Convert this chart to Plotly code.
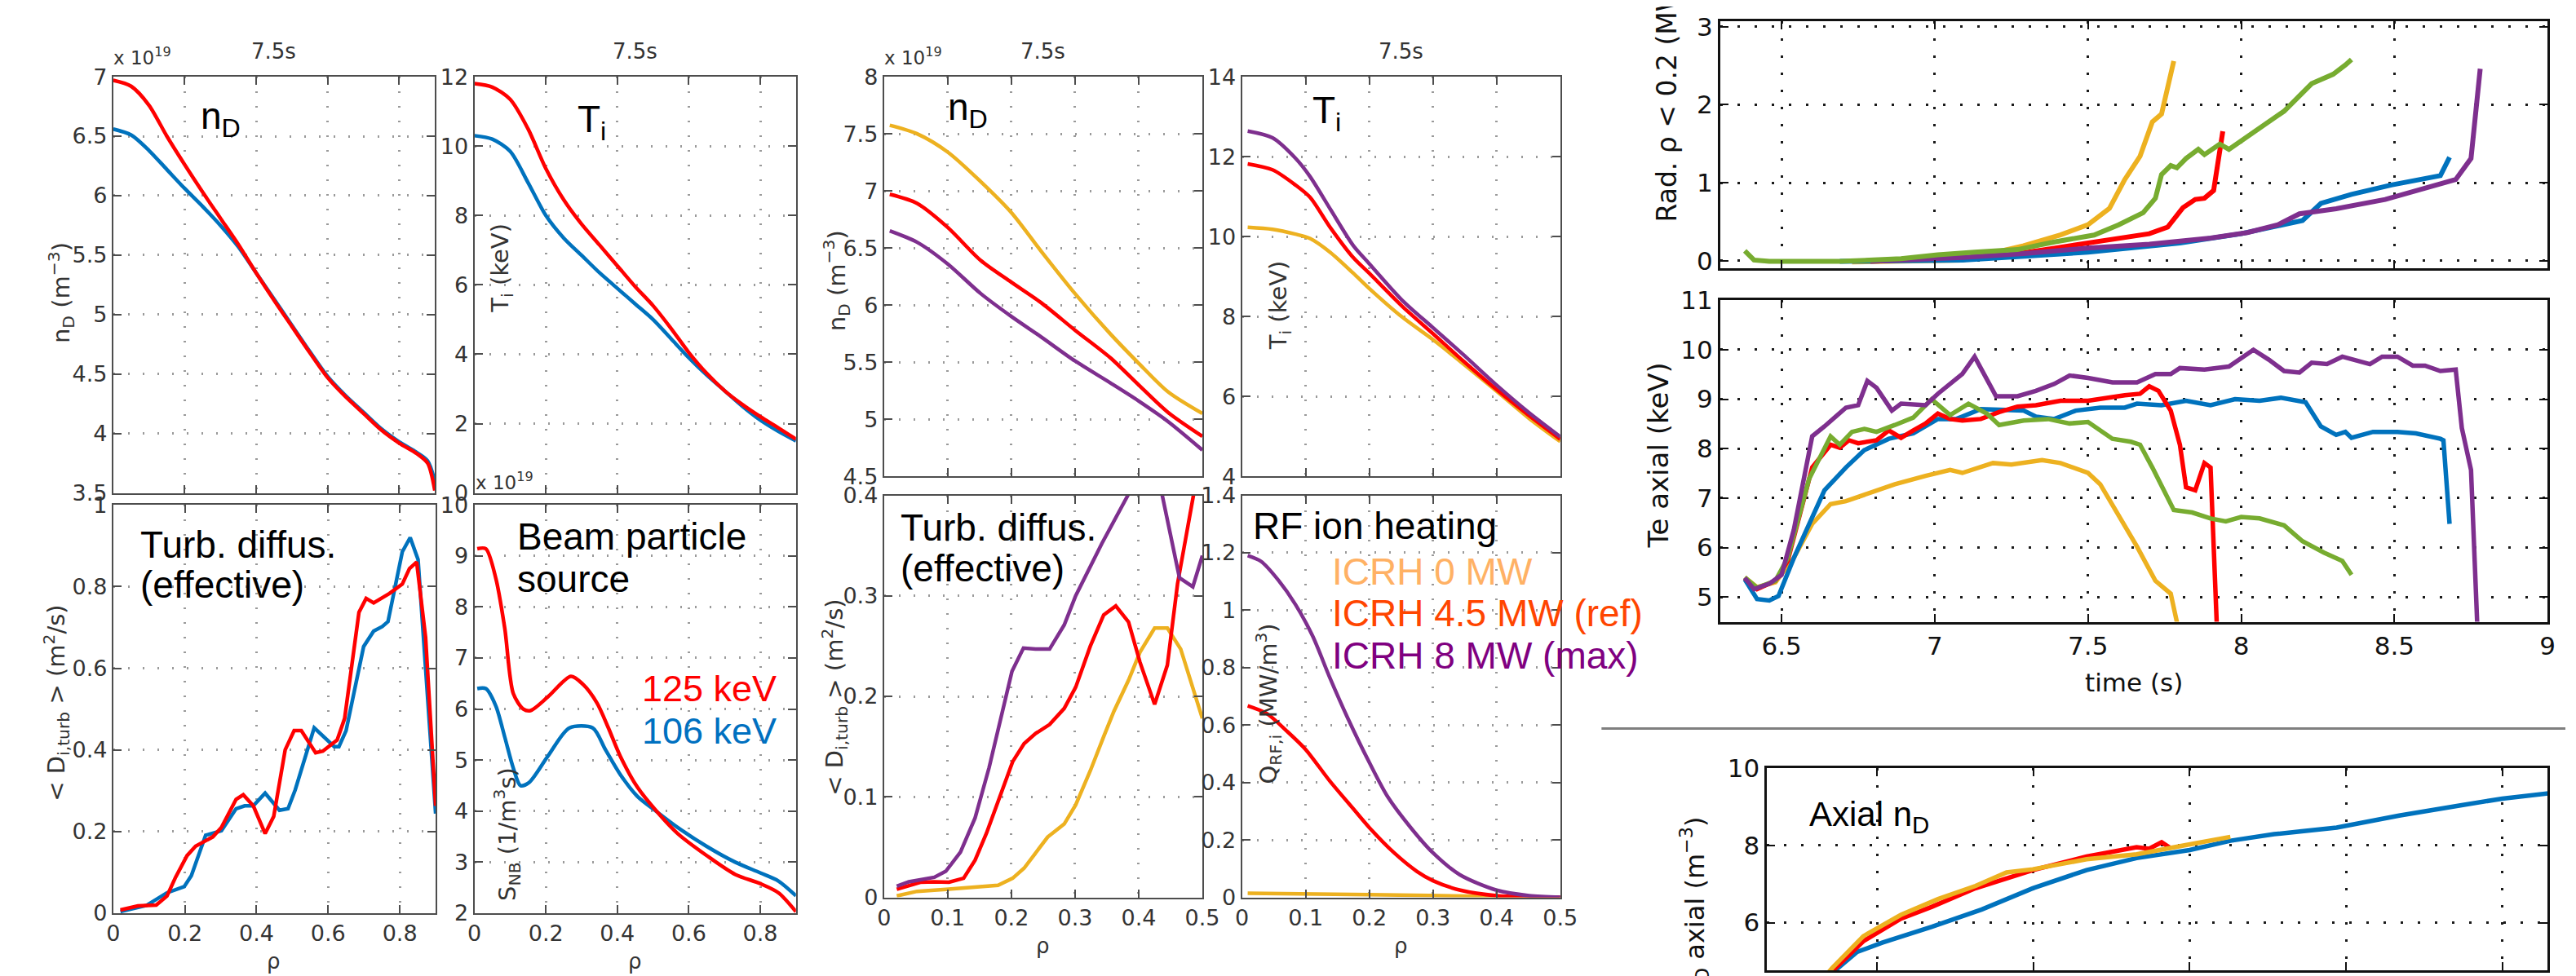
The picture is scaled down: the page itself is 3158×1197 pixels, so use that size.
import plotly.graph_objects as go

W, H = 3158, 1197

RED = "#ff0000"
BLUE = "#0072bd"
YELLOW = "#edb120"
PURPLE = "#7e2f8e"
GREEN = "#77ac30"

# ---------------- beam energy scan (125 keV vs 106 keV), profiles at 7.5 s
rho_nd = [0, 0.05, 0.1, 0.15, 0.2, 0.25, 0.3, 0.35, 0.4, 0.45, 0.5, 0.55, 0.6,
          0.65, 0.7, 0.75, 0.8, 0.85, 0.88, 0.9]
nd_125 = [6.97, 6.92, 6.76, 6.50, 6.26, 6.03, 5.81, 5.59, 5.35, 5.12, 4.90, 4.68,
          4.47, 4.31, 4.17, 4.03, 3.92, 3.83, 3.75, 3.52]
nd_106 = [6.56, 6.51, 6.38, 6.22, 6.06, 5.91, 5.75, 5.57, 5.35, 5.13, 4.91, 4.69,
          4.48, 4.32, 4.18, 4.04, 3.93, 3.84, 3.77, 3.60]

rho_ti = [0, 0.05, 0.1, 0.15, 0.2, 0.25, 0.3, 0.35, 0.4, 0.45, 0.5, 0.55, 0.6,
          0.65, 0.7, 0.75, 0.8, 0.85, 0.9]
ti_125 = [11.8, 11.7, 11.35, 10.5, 9.35, 8.45, 7.75, 7.15, 6.55, 5.95, 5.4, 4.75,
          4.05, 3.45, 2.95, 2.55, 2.2, 1.88, 1.55]
ti_106 = [10.3, 10.2, 9.85, 8.95, 8.0, 7.35, 6.85, 6.35, 5.9, 5.45, 5.0, 4.45,
          3.9, 3.4, 2.95, 2.5, 2.1, 1.78, 1.5]

rho_d125 = [0.02, 0.069, 0.12, 0.15, 0.174, 0.206, 0.23, 0.278, 0.302, 0.343, 0.363,
            0.391, 0.424, 0.448, 0.48, 0.505, 0.525, 0.565, 0.585, 0.625, 0.646,
            0.686, 0.706, 0.727, 0.771, 0.807, 0.827, 0.847, 0.872, 0.9]
d_125 = [0.008, 0.018, 0.02, 0.042, 0.088, 0.141, 0.164, 0.187, 0.21, 0.279, 0.29,
         0.263, 0.195, 0.237, 0.40, 0.447, 0.447, 0.393, 0.397, 0.424, 0.477,
         0.737, 0.771, 0.76, 0.783, 0.806, 0.844, 0.86, 0.676, 0.263]
rho_d106 = [0.02, 0.093, 0.15, 0.198, 0.218, 0.258, 0.302, 0.343, 0.367, 0.391,
            0.424, 0.464, 0.488, 0.508, 0.561, 0.617, 0.63, 0.65, 0.699, 0.727,
            0.751, 0.767, 0.807, 0.829, 0.851, 0.9]
d_106 = [0.004, 0.019, 0.05, 0.065, 0.092, 0.191, 0.202, 0.256, 0.263, 0.263,
         0.294, 0.252, 0.256, 0.302, 0.454, 0.408, 0.408, 0.447, 0.653, 0.691,
         0.702, 0.714, 0.885, 0.92, 0.866, 0.244]

rho_s125 = [0.008, 0.032, 0.06, 0.085, 0.109, 0.137, 0.157, 0.206, 0.27, 0.303,
            0.343, 0.375, 0.408, 0.456, 0.512, 0.569, 0.65, 0.73, 0.8, 0.851, 0.9]
s_125 = [9.14, 9.14, 8.56, 7.58, 6.30, 6.0, 5.97, 6.24, 6.64, 6.49, 6.12, 5.63,
         5.08, 4.47, 3.98, 3.56, 3.13, 2.76, 2.58, 2.40, 2.03]
rho_s106 = [0.008, 0.032, 0.06, 0.085, 0.109, 0.129, 0.153, 0.206, 0.266, 0.331,
            0.367, 0.408, 0.456, 0.512, 0.569, 0.65, 0.73, 0.8, 0.851, 0.9]
s_106 = [6.40, 6.40, 6.06, 5.45, 4.84, 4.50, 4.56, 5.08, 5.63, 5.63, 5.20, 4.72,
         4.29, 3.98, 3.68, 3.31, 3.0, 2.79, 2.63, 2.34]

# ---------------- ICRH power scan, profiles at 7.5 s
rho_nd2 = [0.009, 0.052, 0.1, 0.152, 0.2, 0.247, 0.3, 0.355, 0.4, 0.446, 0.5]
nd_0mw = [7.575, 7.5, 7.34, 7.08, 6.81, 6.47, 6.10, 5.75, 5.49, 5.24, 5.05]
nd_45mw = [6.97, 6.89, 6.68, 6.39, 6.20, 6.02, 5.78, 5.54, 5.30, 5.06, 4.85]
nd_8mw = [6.65, 6.55, 6.36, 6.10, 5.90, 5.72, 5.51, 5.32, 5.16, 4.98, 4.73]

rho_ti2 = [0.009, 0.048, 0.084, 0.107, 0.139, 0.175, 0.2, 0.252, 0.3, 0.348, 0.4,
           0.451, 0.5]
ti_8mw = [12.64, 12.47, 11.96, 11.5, 10.68, 9.77, 9.32, 8.4, 7.72, 7.04, 6.28, 5.59, 4.99]
ti_45mw = [11.82, 11.67, 11.29, 10.98, 10.22, 9.47, 9.08, 8.25, 7.57, 6.88, 6.17, 5.52, 4.93]
ti_0mw = [10.23, 10.18, 10.06, 9.95, 9.6, 9.08, 8.7, 7.98, 7.42, 6.81, 6.13, 5.45, 4.87]

rho_d8 = [0.02, 0.039, 0.079, 0.097, 0.12, 0.143, 0.165, 0.179, 0.201, 0.219, 0.238,
          0.26, 0.283, 0.301, 0.342, 0.383, 0.41, 0.437, 0.464, 0.485, 0.5]
d_8mw = [0.011, 0.0155, 0.02, 0.026, 0.045, 0.079, 0.129, 0.166, 0.225, 0.248, 0.247,
         0.247, 0.271, 0.30, 0.352, 0.40, 0.46, 0.40, 0.318, 0.309, 0.34]
rho_d45 = [0.02, 0.039, 0.057, 0.079, 0.102, 0.125, 0.143, 0.161, 0.184, 0.202, 0.22,
           0.238, 0.26, 0.283, 0.301, 0.324, 0.345, 0.364, 0.384, 0.402, 0.425,
           0.445, 0.461, 0.486, 0.5]
d_45mw = [0.008, 0.012, 0.015, 0.0155, 0.015, 0.019, 0.037, 0.064, 0.104, 0.135,
          0.153, 0.163, 0.172, 0.188, 0.209, 0.25, 0.281, 0.29, 0.274, 0.234, 0.192,
          0.231, 0.312, 0.40, 0.47]
rho_d0 = [0.02, 0.052, 0.097, 0.157, 0.179, 0.202, 0.22, 0.257, 0.283, 0.301, 0.324,
          0.345, 0.361, 0.384, 0.402, 0.425, 0.445, 0.466, 0.5]
d_0mw = [0.0015, 0.006, 0.008, 0.011, 0.012, 0.019, 0.029, 0.06, 0.073, 0.092, 0.126,
         0.16, 0.185, 0.216, 0.244, 0.268, 0.268, 0.247, 0.178]

rho_q8 = [0.009, 0.03, 0.057, 0.084, 0.111, 0.138, 0.166, 0.2, 0.229, 0.265, 0.3,
          0.342, 0.4, 0.451, 0.5]
q_8mw = [1.19, 1.17, 1.105, 1.02, 0.91, 0.765, 0.625, 0.47, 0.35, 0.243, 0.155,
         0.079, 0.025, 0.006, 0.0]
rho_q45 = [0.009, 0.039, 0.07, 0.1, 0.138, 0.175, 0.2, 0.239, 0.275, 0.3, 0.343, 0.4, 0.5]
q_45mw = [0.667, 0.64, 0.58, 0.515, 0.405, 0.308, 0.243, 0.155, 0.09, 0.058, 0.025, 0.006, 0.0]
rho_q0 = [0.009, 0.2, 0.4, 0.5]
q_0mw = [0.014, 0.009, 0.003, 0.0]

# ---------------- time traces
t_rad_g = [6.38, 6.41, 6.46, 6.69, 6.89, 7.01, 7.13, 7.27, 7.39, 7.52, 7.60, 7.68,
           7.72, 7.74, 7.77, 7.79, 7.82, 7.86, 7.88, 7.93, 7.96, 8.04, 8.14, 8.23,
           8.30, 8.34, 8.36]
rad_g = [0.125, 0.007, -0.01, -0.01, 0.024, 0.074, 0.108, 0.142, 0.24, 0.328, 0.46,
         0.615, 0.80, 1.105, 1.22, 1.19, 1.31, 1.427, 1.36, 1.495, 1.427, 1.647,
         1.917, 2.27, 2.39, 2.51, 2.58]
t_rad_y = [6.73, 7.09, 7.29, 7.41, 7.50, 7.57, 7.62, 7.67, 7.71, 7.74, 7.78]
rad_y = [-0.017, 0.007, 0.19, 0.33, 0.46, 0.67, 1.04, 1.34, 1.78, 1.88, 2.56]
t_rad_r = [6.99, 7.19, 7.39, 7.60, 7.70, 7.76, 7.81, 7.85, 7.88, 7.91, 7.92, 7.94]
rad_r = [0.007, 0.04, 0.16, 0.277, 0.345, 0.43, 0.68, 0.785, 0.80, 0.90, 1.17, 1.66]
t_rad_b = [6.69, 7.09, 7.50, 7.80, 8.0, 8.12, 8.20, 8.26, 8.36, 8.49, 8.59, 8.65, 8.68]
rad_b = [-0.01, 0.007, 0.108, 0.227, 0.345, 0.446, 0.514, 0.734, 0.85, 0.97, 1.055,
         1.09, 1.325]
t_rad_p = [6.79, 7.09, 7.29, 7.50, 7.70, 7.90, 8.02, 8.12, 8.19, 8.31, 8.47, 8.57,
           8.70, 8.75, 8.78]
rad_p = [-0.01, 0.04, 0.09, 0.16, 0.21, 0.29, 0.36, 0.46, 0.60, 0.666, 0.785, 0.90,
         1.04, 1.31, 2.46]

t_te_p = [6.38, 6.41, 6.46, 6.50, 6.54, 6.60, 6.64, 6.71, 6.75, 6.78, 6.81, 6.86,
          6.89, 6.97, 7.01, 7.09, 7.13, 7.16, 7.20, 7.27, 7.33, 7.39, 7.44, 7.50,
          7.58, 7.66, 7.72, 7.77, 7.80, 7.88, 7.96, 8.04, 8.09, 8.14, 8.19, 8.23,
          8.28, 8.33, 8.42, 8.46, 8.51, 8.56, 8.60, 8.65, 8.70, 8.72, 8.75, 8.77, 8.78]
te_p = [5.39, 5.16, 5.27, 5.45, 6.36, 8.25, 8.45, 8.83, 8.88, 9.37, 9.23, 8.77,
        8.91, 8.88, 9.11, 9.51, 9.86, 9.51, 9.06, 9.06, 9.17, 9.31, 9.48, 9.43,
        9.34, 9.34, 9.51, 9.51, 9.63, 9.60, 9.66, 10.0, 9.80, 9.57, 9.54, 9.74,
        9.71, 9.86, 9.71, 9.86, 9.86, 9.68, 9.68, 9.57, 9.60, 8.42, 7.57, 4.5, 4.0]
t_te_b = [6.38, 6.42, 6.46, 6.49, 6.54, 6.64, 6.71, 6.77, 6.85, 6.93, 7.01, 7.07,
          7.15, 7.29, 7.33, 7.39, 7.46, 7.54, 7.62, 7.66, 7.74, 7.82, 7.90, 7.98,
          8.06, 8.13, 8.21, 8.26, 8.31, 8.34, 8.36, 8.43, 8.51, 8.57, 8.65, 8.66, 8.68]
te_b = [5.36, 4.96, 4.93, 5.02, 5.79, 7.16, 7.62, 7.97, 8.2, 8.31, 8.60, 8.60,
        8.80, 8.77, 8.65, 8.60, 8.77, 8.83, 8.83, 8.91, 8.88, 8.97, 8.88, 9.0,
        8.97, 9.03, 8.94, 8.45, 8.28, 8.34, 8.22, 8.34, 8.34, 8.31, 8.20, 8.17, 6.48]
t_te_r = [6.38, 6.42, 6.48, 6.52, 6.60, 6.66, 6.69, 6.72, 6.75, 6.81, 6.85, 6.89,
          6.93, 6.97, 7.01, 7.05, 7.09, 7.15, 7.21, 7.27, 7.33, 7.41, 7.50, 7.56,
          7.62, 7.67, 7.70, 7.73, 7.77, 7.80, 7.82, 7.85, 7.88, 7.90, 7.92, 7.93]
te_r = [5.38, 5.16, 5.33, 5.73, 7.62, 8.08, 8.02, 8.17, 8.11, 8.17, 8.37, 8.22,
        8.37, 8.51, 8.71, 8.60, 8.57, 8.60, 8.74, 8.85, 8.88, 8.97, 8.97, 9.03,
        9.08, 9.11, 9.26, 9.17, 8.77, 8.08, 7.22, 7.16, 7.71, 7.62, 4.5, 4.0]
t_te_g = [6.38, 6.42, 6.48, 6.52, 6.59, 6.66, 6.69, 6.73, 6.77, 6.81, 6.87, 6.93,
          6.99, 7.05, 7.11, 7.17, 7.21, 7.29, 7.37, 7.44, 7.50, 7.58, 7.64, 7.67,
          7.71, 7.78, 7.84, 7.90, 7.95, 8.00, 8.06, 8.14, 8.20, 8.27, 8.33, 8.36]
te_g = [5.40, 5.19, 5.33, 5.79, 7.39, 8.25, 8.08, 8.34, 8.40, 8.34, 8.48, 8.63,
        9.0, 8.68, 8.91, 8.71, 8.48, 8.57, 8.60, 8.51, 8.54, 8.20, 8.14, 8.08,
        7.62, 6.76, 6.71, 6.59, 6.53, 6.62, 6.59, 6.45, 6.13, 5.90, 5.73, 5.45]
t_te_y = [6.38, 6.42, 6.48, 6.54, 6.60, 6.66, 6.71, 6.79, 6.87, 6.97, 7.05, 7.09,
          7.19, 7.25, 7.35, 7.41, 7.50, 7.54, 7.60, 7.66, 7.72, 7.77, 7.79, 7.80]
te_y = [5.40, 5.20, 5.30, 5.79, 6.48, 6.88, 6.94, 7.11, 7.28, 7.45, 7.57, 7.51,
        7.71, 7.68, 7.77, 7.71, 7.51, 7.28, 6.65, 6.02, 5.33, 5.07, 4.5, 4.0]

t_nd_b = [6.30, 6.367, 6.436, 6.516, 6.675, 6.835, 6.998, 7.17, 7.33, 7.50, 7.63,
          7.77, 7.97, 8.17, 8.37, 8.50, 8.65]
nd_ax_b = [4.2, 4.77, 5.24, 5.48, 5.89, 6.34, 6.89, 7.36, 7.67, 7.88, 8.12, 8.29,
           8.46, 8.77, 9.04, 9.21, 9.35]
t_nd_r = [6.30, 6.367, 6.456, 6.576, 6.675, 6.815, 6.998, 7.17, 7.33, 7.37, 7.41, 7.44]
nd_ax_r = [4.3, 4.83, 5.52, 6.10, 6.41, 6.89, 7.36, 7.71, 7.95, 7.91, 8.08, 7.92]
t_nd_y = [6.30, 6.357, 6.456, 6.576, 6.695, 6.815, 6.914, 6.998, 7.17, 7.33, 7.49, 7.63]
nd_ax_y = [4.3, 4.83, 5.65, 6.20, 6.61, 6.95, 7.30, 7.38, 7.64, 7.77, 8.01, 8.22]

# ---------------------------------------------------------------------------
fig = go.Figure()

TICKFONT = "DejaVu Sans, Liberation Sans, Arial"
LABELFONT = "Liberation Sans, Arial"

# panel boxes in pixels: left, top, right, bottom
panels = {
    1: dict(box=(123, 70, 521, 595), xr=[0, 0.9], yr=[3.5, 7], xd=0.2, yd=0.5, xl=False, st="L"),
    2: dict(box=(570, 70, 968, 595), xr=[0, 0.9], yr=[0, 12], xd=0.2, yd=2, xl=False, st="L"),
    3: dict(box=(123, 610, 522, 1125), xr=[0, 0.9], yr=[0, 1], xd=0.2, yd=0.2, xl=True, st="L"),
    4: dict(box=(570, 610, 968, 1125), xr=[0, 0.9], yr=[2, 10], xd=0.2, yd=1, xl=True, st="L"),
    5: dict(box=(1077, 70, 1471, 574), xr=[0, 0.5], yr=[4.5, 8], xd=0.1, yd=0.5, xl=False, st="L"),
    6: dict(box=(1520, 70, 1914, 574), xr=[0, 0.5], yr=[4, 14], xd=0.1, yd=2, xl=False, st="L"),
    7: dict(box=(1077, 598, 1471, 1105), xr=[0, 0.5], yr=[0, 0.4], xd=0.1, yd=0.1, xl=True, st="L"),
    8: dict(box=(1520, 598, 1914, 1105), xr=[0, 0.5], yr=[0, 1.4], xd=0.1, yd=0.2, xl=True, st="L"),
    9: dict(box=(2112, 0, 3136, 312), xr=[6.3, 9], yr=[-0.102, 3.071], xd=0.5, yd=1, xl=False, st="R"),
    10: dict(box=(2112, 352, 3136, 757.5), xr=[6.3, 9], yr=[4.5, 11], xd=0.5, yd=1, xl=True, st="R"),
    11: dict(box=(2170, 942, 3136, 1197), xr=[6.148, 8.645], yr=[4.765, 10], xd=0.5, yd=2, xl=False, st="R"),
}

layout_axes = {}
for k, p in panels.items():
    l, t, r, b = p["box"]
    sfx = "" if k == 1 else str(k)
    if p["st"] == "L":
        lc, gc, gd, lw = "#4d4d4d", "#9a9a9a", "2px,16px", 2
        tf = dict(family=TICKFONT, size=27, color="#333333")
    else:
        lc, gc, gd, lw = "#111111", "#1a1a1a", "3px,18px", 3
        tf = dict(family=TICKFONT, size=31, color="#111111")
    common = dict(showline=True, linecolor=lc, linewidth=lw, mirror="ticks",
                  ticks="inside", ticklen=10, tickwidth=2, tickcolor=lc,
                  showgrid=True, gridcolor=gc, griddash=gd, gridwidth=2.5,
                  zeroline=False, tickfont=tf)
    layout_axes["xaxis" + sfx] = dict(common, domain=[l / W, r / W], range=p["xr"],
                                      tick0=0, dtick=p["xd"], anchor="y" + sfx,
                                      showticklabels=p["xl"])
    layout_axes["yaxis" + sfx] = dict(common, domain=[1 - b / H, 1 - t / H], range=p["yr"],
                                      tick0=0, dtick=p["yd"], anchor="x" + sfx)


def line(k, x, y, color, width=4.5, shape="linear"):
    sfx = "" if k == 1 else str(k)
    fig.add_trace(go.Scatter(x=x, y=y, mode="lines", xaxis="x" + sfx, yaxis="y" + sfx,
                             line=dict(color=color, width=width, shape=shape,
                                       smoothing=0.8), showlegend=False, hoverinfo="skip"))


line(1, rho_nd, nd_106, BLUE, shape="spline")
line(1, rho_nd, nd_125, RED, shape="spline")
line(2, rho_ti, ti_106, BLUE, shape="spline")
line(2, rho_ti, ti_125, RED, shape="spline")
line(3, rho_d106, d_106, BLUE)
line(3, rho_d125, d_125, RED)
line(4, rho_s106, s_106, BLUE, shape="spline")
line(4, rho_s125, s_125, RED, shape="spline")

line(5, rho_nd2, nd_0mw, YELLOW, shape="spline")
line(5, rho_nd2, nd_45mw, RED, shape="spline")
line(5, rho_nd2, nd_8mw, PURPLE, shape="spline")
line(6, rho_ti2, ti_0mw, YELLOW, shape="spline")
line(6, rho_ti2, ti_45mw, RED, shape="spline")
line(6, rho_ti2, ti_8mw, PURPLE, shape="spline")
line(7, rho_d0, d_0mw, YELLOW)
line(7, rho_d45, d_45mw, RED)
line(7, rho_d8, d_8mw, PURPLE)
line(8, rho_q0, q_0mw, YELLOW, shape="spline")
line(8, rho_q45, q_45mw, RED, shape="spline")
line(8, rho_q8, q_8mw, PURPLE, shape="spline")

line(9, t_rad_y, rad_y, YELLOW, 6)
line(9, t_rad_r, rad_r, RED, 6)
line(9, t_rad_b, rad_b, BLUE, 6)
line(9, t_rad_p, rad_p, PURPLE, 6)
line(9, t_rad_g, rad_g, GREEN, 6)

line(10, t_te_y, te_y, YELLOW, 5.5)
line(10, t_te_b, te_b, BLUE, 5.5)
line(10, t_te_r, te_r, RED, 5.5)
line(10, t_te_g, te_g, GREEN, 5.5)
line(10, t_te_p, te_p, PURPLE, 5.5)

line(11, t_nd_b, nd_ax_b, BLUE, 5.5)
line(11, t_nd_r, nd_ax_r, RED, 5.5)
line(11, t_nd_y, nd_ax_y, YELLOW, 5.5)

# ---------------------------------------------------------------------------
anns = []


def text(s, x, y, size, color="#000000", xanchor="left", angle=0, yanchor="middle",
         family=LABELFONT):
    anns.append(dict(text=s, x=x / W, y=1 - y / H, xref="paper", yref="paper",
                     xanchor=xanchor, yanchor=yanchor, textangle=angle, showarrow=False,
                     font=dict(family=family, size=size, color=color)))


GRAY = "#333333"
for cx in (322, 769, 1274, 1717):
    text("7.5s", cx, 38, 26, GRAY, "center", family=TICKFONT)
text("x 10<sup>19</sup>", 121, 44, 23, GRAY, family=TICKFONT)
text("x 10<sup>19</sup>", 1075, 44, 23, GRAY, family=TICKFONT)
text("x 10<sup>19</sup>", 569, 580, 23, GRAY, family=TICKFONT)
for cx, cy in ((322, 1186), (769, 1186), (1274, 1166), (1717, 1166)):
    text("ρ", cx, cy, 26, GRAY, "center", family=TICKFONT)

# y axis titles
YT = dict(family=TICKFONT)
text("n<sub>D</sub> (m<sup>−3</sup>)", 58, 342, 29, GRAY, "center", -90, **YT)
text("T<sub>i</sub> (keV)", 604, 311, 29, GRAY, "center", -90, **YT)
text("< D<sub>i,turb</sub> > (m<sup>2</sup>/s)", 53, 860, 29, GRAY, "center", -90, **YT)
text("S<sub>NB</sub> (1/m<sup>3</sup>s)", 610, 1025, 29, GRAY, "center", -90, **YT)
text("n<sub>D</sub> (m<sup>−3</sup>)", 1018, 327, 29, GRAY, "center", -90, **YT)
text("T<sub>i</sub> (keV)", 1567, 358, 29, GRAY, "center", -90, **YT)
text("< D<sub>i,turb</sub> > (m<sup>2</sup>/s)", 1016, 853, 29, GRAY, "center", -90, **YT)
text("Q<sub>RF,i</sub> (MW/m<sup>3</sup>)", 1553, 861, 29, GRAY, "center", -90, **YT)
text("Rad. ρ < 0.2 (MW)", 2046, 256, 33, "#111111", "center", -90, "bottom", **YT)
text("Te axial (keV)", 2035, 548, 34, "#111111", "center", -90, **YT)
text("time (s)", 2624, 834, 31, "#111111", "center", **YT)
text("n<sub>D</sub> axial (m<sup>−3</sup>)", 2080, 1118, 32, "#111111", "center", -90, **YT)

# panel labels
text("n<sub>D</sub>", 229, 123, 46)
text("T<sub>i</sub>", 696, 127, 46)
text("n<sub>D</sub>", 1154, 112, 46)
text("T<sub>i</sub>", 1605, 116, 46)
text("Turb. diffus.", 154, 660, 46)
text("(effective)", 154, 711, 46)
text("Beam particle", 621, 650, 46)
text("source", 621, 703, 46)
text("125 keV", 775, 842, 45, RED)
text("106 keV", 775, 895, 45, "#0070c0")
text("Turb. diffus.", 1095, 639, 46)
text("(effective)", 1095, 690, 46)
text("RF ion heating", 1532, 637, 46)
text("ICRH 0 MW", 1629, 694, 46, "#ffb164")
text("ICRH 4.5 MW (ref)", 1629, 747, 46, "#ff4500")
text("ICRH 8 MW (max)", 1629, 800, 46, "#800080")
text("Axial n<sub>D</sub>", 2220, 1003, 42)

fig.update_layout(
    width=W, height=H, margin=dict(l=0, r=0, t=0, b=0),
    paper_bgcolor="white", plot_bgcolor="white",
    annotations=anns,
    shapes=[dict(type="line", xref="paper", yref="paper", x0=1965 / W, x1=1,
                 y0=1 - 892 / H, y1=1 - 892 / H, line=dict(color="#7f7f7f", width=3))],
    **layout_axes,
)

fig.write_html("out.html")
